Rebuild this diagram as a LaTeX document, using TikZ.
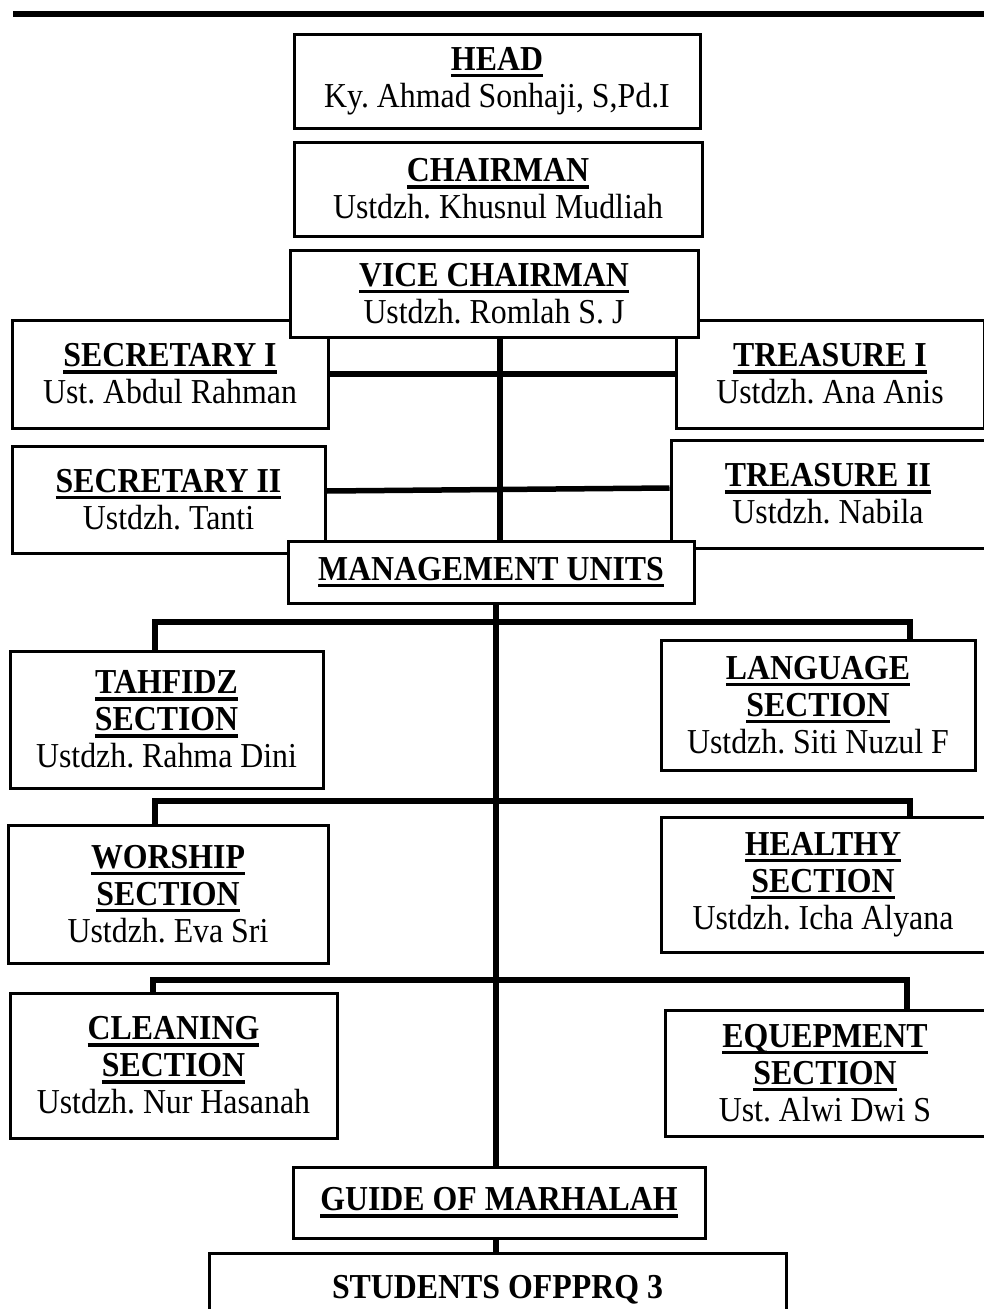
\documentclass[tikz,border=0pt]{standalone}
\usepackage{fontspec}
\setmainfont[FakeStretch=0.91]{Liberation Serif}
\usepackage{tikz}
\usetikzlibrary{positioning}

\newcommand\unitfont{\fontsize{35}{37}\selectfont\frenchspacing}
\newcommand\ulbox[1]{\setbox0\hbox{#1}\rlap{\rule[-7pt]{\wd0}{3.5pt}}\box0}
\newcommand\post[1]{\textbf{\ulbox{#1}}}

\tikzset{
  unitbox/.style={draw, fill=white, line width=3pt, align=center,
    inner sep=0pt, font=\unitfont},
  link/.style={line width=5.5pt}
}

\begin{document}
\begin{tikzpicture}[x=1pt,y=-1pt]
\useasboundingbox (0,0) rectangle (983,1309);
% top rule
\draw[line width=6.5pt] (13,14) -- (985,14);

\node[unitbox, minimum width=406, minimum height=94] (head) at (497,81)
  {\post{HEAD}\\Ky. Ahmad Sonhaji, S,Pd.I};
\node[unitbox, minimum width=408, minimum height=94] (chair) at (498,189)
  {\post{CHAIRMAN}\\Ustdzh. Khusnul Mudliah};

\node[unitbox, minimum width=316, minimum height=108] (sec1) at (170,374)
  {\post{SECRETARY I}\\Ust. Abdul Rahman};
\node[unitbox, minimum width=308, minimum height=108] (tre1) at (830,374)
  {\post{TREASURE I}\\Ustdzh. Ana Anis};
\node[unitbox, minimum width=313, minimum height=107] (sec2) at (168.5,499.5)
  {\post{SECRETARY II}\\Ustdzh. Tanti};
\node[unitbox, minimum width=314, minimum height=108] (tre2) at (828,494)
  {\post{TREASURE II}\\Ustdzh. Nabila};

\node[unitbox, minimum width=408, minimum height=87] (vice) at (494,293.5)
  {\post{VICE CHAIRMAN}\\Ustdzh. Romlah S. J};

% vice chairman trunk
\coordinate (trunk) at (500,0);
\draw[link] (sec1.east) -- (tre1.west);
\draw[link] ([yshift=8.5pt]sec2.east) -- ([yshift=6pt]tre2.west);
\draw[link] (trunk |- vice.south) -- (trunk |- 0,541);

\node[unitbox, minimum width=406, minimum height=62] (mgmt) at (491,572)
  {\post{MANAGEMENT UNITS}};

% sections
\node[unitbox, minimum width=313, minimum height=137] (tahfidz) at (166.5,719.5)
  {\post{TAHFIDZ}\\\post{SECTION}\\Ustdzh. Rahma Dini};
\node[unitbox, minimum width=314, minimum height=130] (language) at (818,705)
  {\post{LANGUAGE}\\\post{SECTION}\\Ustdzh. Siti Nuzul F};
\node[unitbox, minimum width=320, minimum height=138] (worship) at (168,894)
  {\post{WORSHIP}\\\post{SECTION}\\Ustdzh. Eva Sri};
\node[unitbox, minimum width=324, minimum height=135] (healthy) at (823,884.5)
  {\post{HEALTHY}\\\post{SECTION}\\Ustdzh. Icha Alyana};
\node[unitbox, minimum width=327, minimum height=145] (cleaning) at (173.5,1065.5)
  {\post{CLEANING}\\\post{SECTION}\\Ustdzh. Nur Hasanah};
\node[unitbox, minimum width=320, minimum height=126] (equep) at (825,1073)
  {\post{EQUEPMENT}\\\post{SECTION}\\Ust. Alwi Dwi S};

\node[unitbox, minimum width=412, minimum height=71] (guide) at (499,1202.5)
  {\post{GUIDE OF MARHALAH}};
\node[unitbox, minimum width=577, text height=45pt, text depth=60pt,
  anchor=north] (students) at (497.5,1252) {\textbf{STUDENTS OFPPRQ 3}};

% main trunk
\coordinate (stem) at (496,0);
\draw[link] (stem |- mgmt.south) -- (stem |- guide.north);
\draw[link] (stem |- guide.south) -- (stem |- students.north);

% branches
\coordinate (l1) at (155,622);  \coordinate (r1) at (910,622);
\coordinate (l2) at (155,801);  \coordinate (r2) at (910,801);
\coordinate (l3) at (153,980);  \coordinate (r3) at (907,980);
\draw[link] (l1 |- tahfidz.north) -- (l1) -- (r1) -- (r1 |- language.north);
\draw[link] (l2 |- worship.north) -- (l2) -- (r2) -- (r2 |- healthy.north);
\draw[link] (l3 |- cleaning.north) -- (l3) -- (r3) -- (r3 |- equep.north);
\end{tikzpicture}
\end{document}
